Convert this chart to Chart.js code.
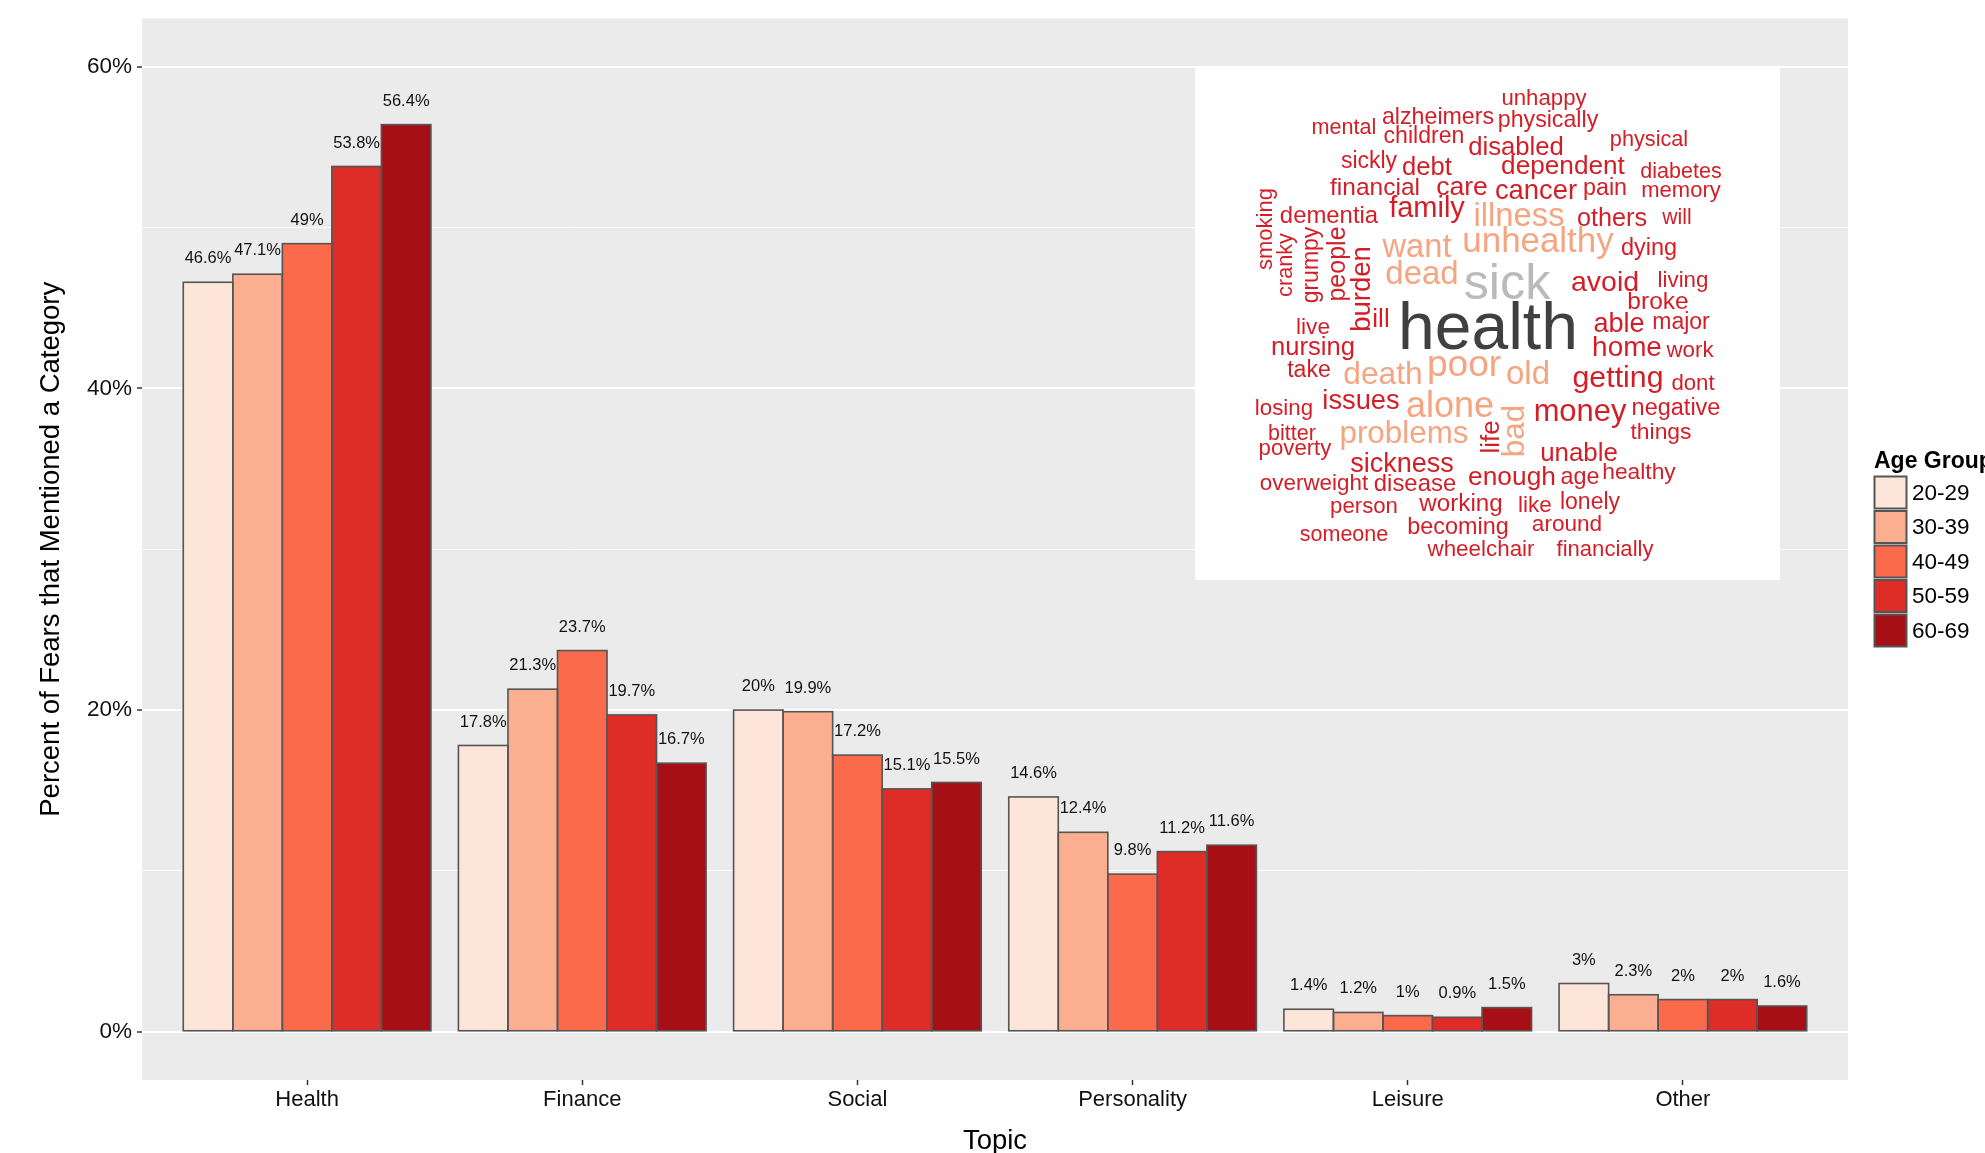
<!DOCTYPE html>
<html>
<head>
<meta charset="utf-8">
<script src="https://cdn.jsdelivr.net/npm/chart.js@4.4.0/dist/chart.umd.min.js"></script>
<style>
html,body{margin:0;padding:0;background:#ffffff;}
#wrap{width:1985px;height:1153px;position:relative;overflow:hidden;}
canvas{display:block;}
</style>
</head>
<body>
<div id="wrap"><canvas id="c" width="1985" height="1153"></canvas></div>
<script>
// ---------------- data ----------------
const categories = ['Health', 'Finance', 'Social', 'Personality', 'Leisure', 'Other'];
const ageGroups = ['20-29', '30-39', '40-49', '50-59', '60-69'];
const pct2029 = [46.6, 17.8, 20.0, 14.6, 1.4, 3.0];
const pct3039 = [47.1, 21.3, 19.9, 12.4, 1.2, 2.3];
const pct4049 = [49.0, 23.7, 17.2, 9.8, 1.0, 2.0];
const pct5059 = [53.8, 19.7, 15.1, 11.2, 0.9, 2.0];
const pct6069 = [56.4, 16.7, 15.5, 11.6, 1.5, 1.6];
const seriesValues = [pct2029, pct3039, pct4049, pct5059, pct6069];
const yMajorTicks = [0, 20, 40, 60];
const yMinorTicks = [10, 30, 50];

// word cloud inset (text content)
const cloudWords = ['unhappy','alzheimers','physically','mental','children','disabled','physical','sickly','debt','dependent','diabetes','financial','care','cancer','pain','memory','family','illness','others','will','dementia','unhealthy','dying','want','dead','sick','avoid','living','broke','ill','health','able','major','live','nursing','home','work','take','death','poor','old','getting','dont','losing','issues','alone','money','negative','bitter','poverty','problems','things','unable','sickness','enough','age','healthy','overweight','disease','person','working','like','lonely','becoming','around','someone','wheelchair','financially','smoking','cranky','grumpy','people','burden','life','bad'];

// ---------------- styles / layout ----------------
const fillColors = ['#FEE5D9', '#FCAE91', '#FB6A4A', '#DE2D26', '#A50F15'];
const FONT = '"Liberation Sans", Arial, Helvetica, sans-serif';
const cloudPalette = { r: '#D41E27', p: '#F4A582', g: '#BABABA', d: '#404040' };
// word -> [x, y, size, colourKey, vertical]; horizontal: x=center, y=baseline; vertical: x=baseline, y=center
const cloudLayout = {
  unhappy:[1544,103,22.2,'r'], alzheimers:[1438,122,23.2,'r'], physically:[1548,125,23.2,'r'],
  mental:[1344,132,21.6,'r'], children:[1424,141,23.1,'r'], disabled:[1516,151,25.7,'r'],
  physical:[1649,144,21.7,'r'], sickly:[1369,166,23,'r'], debt:[1427,171,25.6,'r'],
  dependent:[1563,170,26.2,'r'], diabetes:[1681,176,21.5,'r'], financial:[1375,193,24.5,'r'],
  care:[1462,191,26.6,'r'], cancer:[1536,195,27.4,'r'], pain:[1605,193,23.3,'r'],
  memory:[1681,195,22,'r'], family:[1427,213,29,'r'], illness:[1519,222,32.8,'p'],
  others:[1612,222,25.2,'r'], will:[1677,222,21.2,'r'], dementia:[1329,221,23.9,'r'],
  unhealthy:[1538,248,34.9,'p'], dying:[1649,253,23.5,'r'], want:[1417,253,32.7,'p'],
  dead:[1422,280,33,'p'], sick:[1507,295,50.3,'g'], avoid:[1605,287,28.5,'r'],
  living:[1683,285,22.3,'r'], broke:[1658,307,24.5,'r'], ill:[1381,323,26,'r'],
  health:[1488,347,66,'d'], able:[1619,328,27.1,'r'], major:[1681,327,23,'r'],
  live:[1313,332,22.7,'r'], nursing:[1313,351,25.6,'r'], home:[1627,352,27.9,'r'],
  work:[1690,355,22.3,'r'], take:[1309,375,23.1,'r'], death:[1383,380,31.7,'p'],
  poor:[1464,372,37.1,'p'], old:[1528,380,33,'p'], getting:[1618,383,30.3,'r'],
  dont:[1693,388,22.2,'r'], losing:[1284,413,22.3,'r'], issues:[1361,405,27.3,'r'],
  alone:[1450,413,36,'p'], money:[1580,417,30.9,'r'], negative:[1676,413,23.5,'r'],
  bitter:[1292,438,21.5,'r'], poverty:[1295,453,22.2,'r'], problems:[1404,439,31.4,'p'],
  things:[1661,437,22.9,'r'], unable:[1579,457,25.9,'r'], sickness:[1402,468,27,'r'],
  enough:[1512,481,26.3,'r'], age:[1580,482,23.4,'r'], healthy:[1639,477,22.8,'r'],
  overweight:[1314,488,22.4,'r'], disease:[1415,489,23.9,'r'], person:[1364,511,22.2,'r'],
  working:[1461,509,24.2,'r'], like:[1535,510,22.5,'r'], lonely:[1590,507,23,'r'],
  becoming:[1458,532,23.4,'r'], around:[1567,529,22.6,'r'], someone:[1344,539,21.5,'r'],
  wheelchair:[1481,554,22.4,'r'], financially:[1605,554,22.1,'r'],
  smoking:[1271.5,229,22,'r',true], cranky:[1291.5,265,21.7,'r',true], grumpy:[1318,265,23,'r',true],
  people:[1345,264,25,'r',true], burden:[1369.5,289,27.5,'r',true], life:[1498.5,437,26,'r',true],
  bad:[1523.5,431,31.4,'p',true]
};

const PANEL = { left: 142, right: 1848, top: 17, bottom: 1080 };

// ---------------- plugins ----------------
const panelBg = {
  id: 'panelBg',
  beforeDraw(chart) {
    const { ctx, chartArea: a } = chart;
    ctx.save();
    ctx.fillStyle = '#EBEBEB';
    ctx.fillRect(a.left, a.top, a.right - a.left, a.bottom - a.top);
    ctx.restore();
  }
};

const barOutlineAndLabels = {
  id: 'barOutlineAndLabels',
  afterDatasetsDraw(chart) {
    const ctx = chart.ctx;
    ctx.save();
    ctx.strokeStyle = '#555555';
    ctx.lineWidth = 1.6;
    chart.data.datasets.forEach((ds, di) => {
      const meta = chart.getDatasetMeta(di);
      meta.data.forEach((el) => {
        const p = el.getProps(['x', 'y', 'base', 'width'], true);
        ctx.strokeRect(p.x - p.width / 2, p.y, p.width, p.base - p.y);
      });
    });
    ctx.fillStyle = '#111111';
    ctx.font = '16.5px ' + FONT;
    ctx.textAlign = 'center';
    ctx.textBaseline = 'middle';
    chart.data.datasets.forEach((ds, di) => {
      const meta = chart.getDatasetMeta(di);
      meta.data.forEach((el, i) => {
        const p = el.getProps(['x', 'y'], true);
        ctx.fillText(String(seriesValues[di][i]) + '%', p.x, p.y - 23.5);
      });
    });
    ctx.restore();
  }
};

const decorations = {
  id: 'decorations',
  afterDraw(chart) {
    const ctx = chart.ctx;
    const a = chart.chartArea;
    ctx.save();
    // axis titles
    ctx.fillStyle = '#000000';
    ctx.font = '27.5px ' + FONT;
    ctx.textAlign = 'center';
    ctx.textBaseline = 'middle';
    ctx.fillText('Topic', (a.left + a.right) / 2, 1141.5);
    ctx.save();
    ctx.translate(51, (a.top + a.bottom) / 2);
    ctx.rotate(-Math.PI / 2);
    ctx.fillText('Percent of Fears that Mentioned a Category', 0, 0);
    ctx.restore();

    // word cloud inset
    ctx.fillStyle = '#FFFFFF';
    ctx.fillRect(1195, 66, 585, 514);
    ctx.textAlign = 'center';
    ctx.textBaseline = 'alphabetic';
    cloudWords.forEach((w) => {
      const L = cloudLayout[w];
      if (!L) return;
      ctx.fillStyle = cloudPalette[L[3]];
      ctx.font = L[2] + 'px ' + FONT;
      if (L[4]) {
        ctx.save();
        ctx.translate(L[0], L[1]);
        ctx.rotate(-Math.PI / 2);
        ctx.fillText(w, 0, 0);
        ctx.restore();
      } else {
        const dy = 2 + (L[2] >= 25 && L[2] < 60 ? 1.5 : 0);
        ctx.fillText(w, L[0], L[1] + dy);
      }
    });

    // legend
    ctx.textAlign = 'left';
    ctx.textBaseline = 'alphabetic';
    ctx.fillStyle = '#000000';
    ctx.font = 'bold 23px ' + FONT;
    ctx.fillText('Age Group', 1874, 467.5);
    ctx.font = '22.5px ' + FONT;
    ctx.textBaseline = 'middle';
    chart.data.datasets.forEach((ds, i) => {
      const y = 476.5 + i * 34.5;
      ctx.fillStyle = ds.backgroundColor;
      ctx.fillRect(1874.5, y, 32, 32);
      ctx.strokeStyle = '#555555';
      ctx.lineWidth = 2;
      ctx.strokeRect(1874.5, y, 32, 32);
      ctx.fillStyle = '#000000';
      ctx.fillText(ds.label, 1912, y + 17);
    });
    ctx.restore();
  }
};

// ---------------- chart ----------------
Chart.defaults.font.family = FONT;

new Chart(document.getElementById('c'), {
  type: 'bar',
  data: {
    datasets: ageGroups.map((g, i) => ({
      label: g,
      data: seriesValues[i].map((v, j) => ({ x: j, y: v })),
      backgroundColor: fillColors[i],
      borderWidth: 0,
      categoryPercentage: 0.9,
      barPercentage: 1.0
    }))
  },
  options: {
    responsive: false,
    animation: false,
    devicePixelRatio: 1,
    layout: { padding: { left: 0, right: 1985 - PANEL.right, top: PANEL.top, bottom: 0 } },
    plugins: { legend: { display: false }, tooltip: { enabled: false } },
    scales: {
      x: {
        type: 'linear',
        min: -0.6,
        max: 5.6,
        offset: false,
        afterBuildTicks(scale) { scale.ticks = categories.map((c, i) => ({ value: i })); },
        afterFit(scale) { scale.height = 1153 - PANEL.bottom; },
        ticks: {
          callback: (v) => categories[v] ?? '',
          color: '#111111',
          font: { size: 22 },
          padding: 2,
          autoSkip: false,
          maxRotation: 0
        },
        grid: { offset: false, drawOnChartArea: false, drawTicks: true, tickLength: 5, tickColor: '#333333', tickWidth: 1.5 },
        border: { display: false }
      },
      y: {
        type: 'linear',
        min: -3,
        max: 63,
        afterBuildTicks(scale) {
          scale.ticks = [...yMajorTicks, ...yMinorTicks].sort((a, b) => a - b).map((v) => ({ value: v }));
        },
        afterFit(scale) { scale.width = PANEL.left; },
        ticks: {
          callback: (v) => (yMajorTicks.includes(v) ? v + '%' : ''),
          color: '#111111',
          font: { size: 22.5 },
          padding: 5
        },
        grid: {
          color: '#FFFFFF',
          lineWidth: (c) => (yMajorTicks.includes(c.tick && c.tick.value) ? 2 : 1),
          drawTicks: true,
          tickLength: 5,
          tickWidth: 1.5,
          tickColor: (c) => (yMajorTicks.includes(c.tick && c.tick.value) ? '#333333' : 'rgba(0,0,0,0)')
        },
        border: { display: false }
      }
    }
  },
  plugins: [panelBg, barOutlineAndLabels, decorations]
});
</script>
</body>
</html>
